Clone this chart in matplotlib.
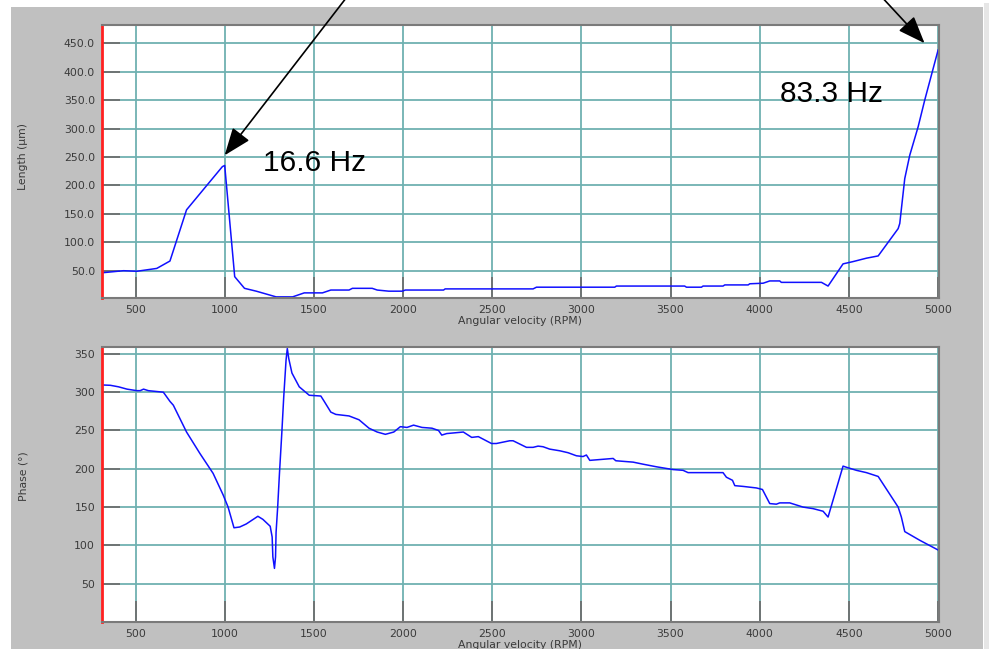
import matplotlib
matplotlib.use("Agg")
import matplotlib.pyplot as plt
from matplotlib.patches import Rectangle
from matplotlib.ticker import FixedLocator, FormatStrFormatter

# ---- data ----
len_rpm = [318, 433, 507, 619, 693, 786, 987, 1000, 1056, 1111, 1177, 1288, 1381, 1446,
           1548, 1595, 1697, 1716, 1827, 1855, 1920, 1995, 2013, 2227, 2236, 2533, 2729,
           2748, 3187, 3196, 3579, 3589, 3673, 3682, 3794, 3804, 3935, 3944, 4019, 4056,
           4112, 4121, 4346, 4383, 4467, 4523, 4598, 4664, 4776, 4785, 4813, 4841, 4888,
           4925, 5000]
len_um = [46.5, 50, 49, 54, 67, 157, 233, 235, 39.5, 19, 14, 4, 4, 11,
          11, 16, 16, 19, 19, 16, 14, 14, 16, 16, 18, 18, 18,
          21, 21, 23, 23, 21, 21, 23, 23, 25, 25, 27, 28, 32,
          32, 29.5, 29.5, 23, 62, 66, 72, 76, 124, 133, 212, 253, 303,
          350, 438]

ph_rpm = [318, 359, 405, 452, 507, 526, 545, 572, 656, 693, 712, 786, 861, 935, 991,
          1019, 1052, 1084, 1121, 1186, 1214, 1255, 1266, 1270, 1279, 1285, 1288, 1297,
          1307, 1320, 1331, 1344, 1351, 1359, 1377, 1418, 1474, 1539, 1558, 1595, 1623,
          1697, 1753, 1809, 1855, 1901, 1948, 1985, 2022, 2059, 2106, 2162, 2199, 2217,
          2245, 2292, 2338, 2385, 2422, 2496, 2523, 2598, 2617, 2692, 2729, 2757, 2785,
          2822, 2879, 2925, 2972, 3009, 3028, 3047, 3178, 3193, 3290, 3346, 3421, 3514,
          3570, 3598, 3794, 3813, 3847, 3860, 3907, 3981, 4015, 4056, 4093, 4112, 4168,
          4243, 4299, 4355, 4383, 4467, 4486, 4542, 4598, 4664, 4720, 4776, 4794, 4813,
          4897, 5000]
ph_deg = [309.4, 309, 307, 304, 302, 302, 304, 302, 300, 288, 283, 248, 220, 194, 166,
          150, 123, 124, 128, 138, 134, 125, 111, 85, 70, 85, 117, 150,
          194, 246, 294, 342, 357, 344, 325, 307, 296, 295, 288, 274, 271,
          269, 264, 253, 248, 245, 248, 255, 254, 257, 254, 253, 250, 244,
          246, 247, 248, 241, 242, 233, 233, 236.6, 236.6, 228, 228, 229.6, 228.8,
          225.7, 223.5, 221, 217, 216, 218, 211, 213.5, 210.5, 208.7, 206, 202.6, 199,
          198, 195, 195, 189, 185, 178, 177, 175, 173, 154.6, 153.8, 155.5, 155.5,
          150, 148, 144.6, 137, 203.5, 202, 198, 195, 190, 170, 150, 137, 118,
          106.7, 94]

x_ticks = [500, 1000, 1500, 2000, 2500, 3000, 3500, 4000, 4500, 5000]
len_ticks = [50, 100, 150, 200, 250, 300, 350, 400, 450]
ph_ticks = [50, 100, 150, 200, 250, 300, 350]

annot_labels = ["16.6 Hz", "83.3 Hz"]

W, H = 989, 649
fig = plt.figure(figsize=(W / 100, H / 100), dpi=100, facecolor="white")

# gray panel background
fig.add_artist(Rectangle((11 / W, 0), (983 - 11) / W, (H - 7) / H,
                         transform=fig.transFigure, facecolor="#c0c0c0",
                         edgecolor="none", zorder=-10))
fig.add_artist(Rectangle((984 / W, 0), 5 / W, (H - 3) / H,
                         transform=fig.transFigure, facecolor="#e6e6e6",
                         edgecolor="none", zorder=-10))

def px_axes(left, top, right, bottom):
    return fig.add_axes([left / W, 1 - bottom / H, (right - left) / W, (bottom - top) / H])

ax1 = px_axes(102, 25, 939, 298)
ax2 = px_axes(102, 347, 939, 622)

grid_c = "#6fb1b1"
tick_c = "#6e6e6e"
label_c = "#3a3a3a"
fs = 7.8

def style(ax):
    ax.set_facecolor("white")
    ax.grid(True, color=grid_c, lw=1.3)
    ax.set_axisbelow(True)
    ax.xaxis.set_major_locator(FixedLocator(x_ticks))
    ax.tick_params(axis="both", direction="in", color=tick_c, width=1.3,
                   labelsize=fs, labelcolor=label_c)
    ax.tick_params(axis="x", length=15, pad=5)
    ax.tick_params(axis="y", length=13, pad=5)
    for s in ["top", "right", "bottom"]:
        ax.spines[s].set_color("#7a7a7a")
        ax.spines[s].set_linewidth(1.5)
    ax.spines["left"].set_color("#ff2020")
    ax.spines["left"].set_linewidth(2)
    ax.set_xlim(312, 5005)
    ax.set_xlabel("Angular velocity (RPM)", fontsize=fs, color=label_c, labelpad=1)

style(ax1)
style(ax2)

ax1.plot(len_rpm, len_um, color="#1010ff", lw=1.1)
ax1.set_ylim(2, 482)
ax1.yaxis.set_major_locator(FixedLocator(len_ticks))
ax1.yaxis.set_major_formatter(FormatStrFormatter("%.1f"))
ax1.set_ylabel("Length (µm)", fontsize=fs, color=label_c)
ax1.yaxis.set_label_coords(-0.088, 0.52)

ax2.plot(ph_rpm, ph_deg, color="#1010ff", lw=1.1)
ax2.set_ylim(0, 359)
ax2.yaxis.set_major_locator(FixedLocator(ph_ticks))
ax2.set_ylabel("Phase (°)", fontsize=fs, color=label_c)
ax2.yaxis.set_label_coords(-0.088, 0.53)

# annotations (arrows from above the figure)
arrow = dict(arrowstyle="-|>,head_length=1.3,head_width=0.5", mutation_scale=13,
             color="black", lw=1.2, shrinkA=0, shrinkB=0)
ax1.annotate("", xy=(1000, 253), xytext=(360, H + 20), textcoords="figure pixels",
             arrowprops=arrow, annotation_clip=False)
ax1.annotate("", xy=(4924, 450), xytext=(866, H + 20), textcoords="figure pixels",
             arrowprops=arrow, annotation_clip=False)

fig.text(315 / W, 1 - 163 / H, annot_labels[0], fontsize=21.5, family="Liberation Sans",
         ha="center", va="center", color="black")
fig.text(832 / W, 1 - 94 / H, annot_labels[1], fontsize=21.5, family="Liberation Sans",
         ha="center", va="center", color="black")

fig.savefig("out.png", dpi=100, facecolor="white")
